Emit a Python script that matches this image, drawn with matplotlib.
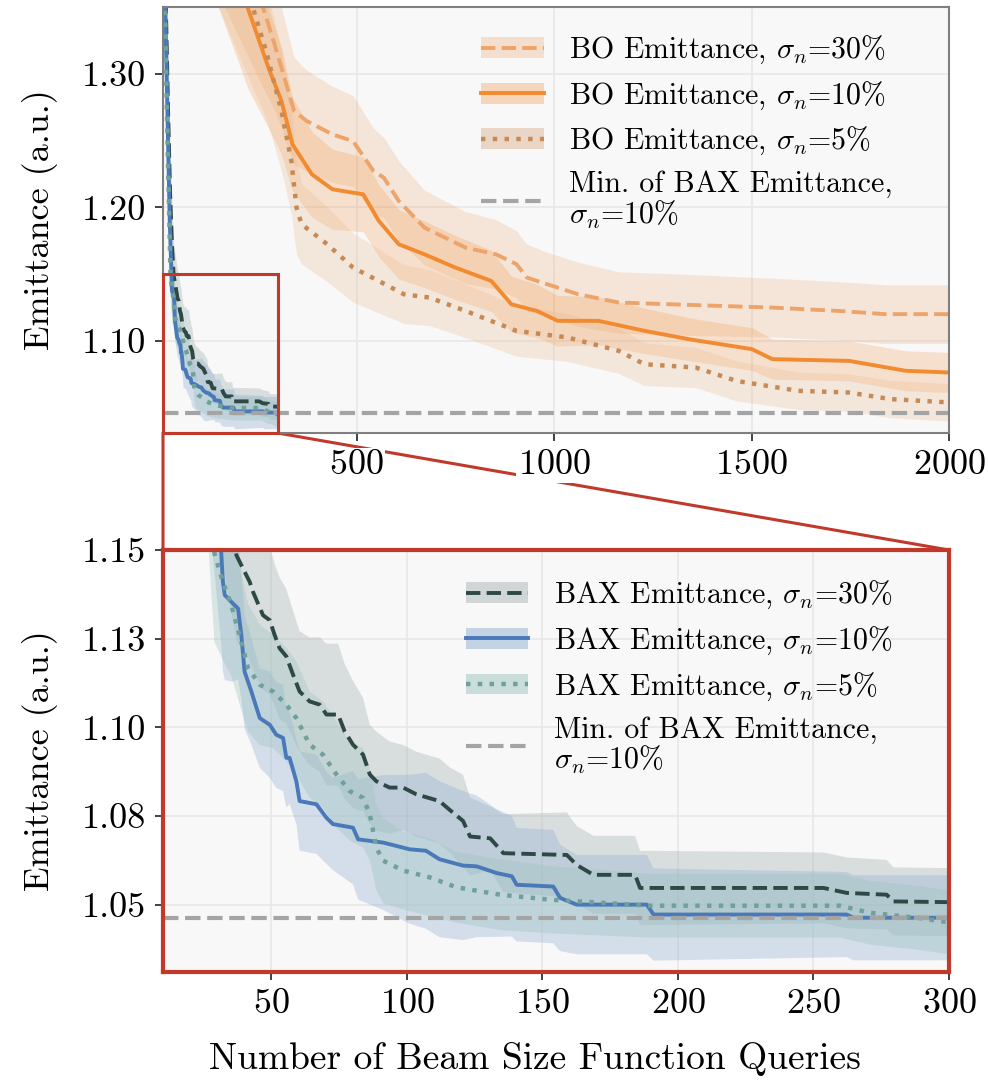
import numpy as np
import matplotlib
matplotlib.use("Agg")
import matplotlib.pyplot as plt
from matplotlib.patches import Patch, Rectangle, ConnectionPatch
from matplotlib.lines import Line2D

plt.rcParams['font.family'] = 'serif'
plt.rcParams['font.serif'] = ['cmr10', 'DejaVu Serif']
plt.rcParams['mathtext.fontset'] = 'cm'
plt.rcParams['axes.formatter.use_mathtext'] = True
plt.rcParams['axes.unicode_minus'] = False

# --- data ---
bax30_x = [10, 14, 18, 23, 28, 33, 37.1, 39.5, 42, 43.2, 46.9, 49.4, 51.2, 53, 55.5, 58, 60.4, 64.1,
           67.8, 70.3, 74.6, 77, 80.1, 83.8, 86.3, 88.7, 93.6, 98.6, 103.5, 112, 115.8, 120.7, 123.3,
           130.7, 135.6, 159, 162.6, 168.8, 184.2, 186, 253.7, 262.3, 277, 279.5, 300]
bax30_y = [1.47, 1.40, 1.34, 1.27, 1.21, 1.17, 1.1485, 1.1448, 1.141, 1.1382, 1.1316, 1.1302, 1.126,
           1.1223, 1.12, 1.1148, 1.1101, 1.1073, 1.1064, 1.1036, 1.1036, 1.0989, 1.0951, 1.0923,
           1.0867, 1.0848, 1.083, 1.083, 1.0811, 1.0792, 1.0767, 1.0736, 1.0692, 1.0687, 1.0645,
           1.064, 1.0612, 1.0584, 1.0584, 1.0547, 1.0547, 1.0533, 1.0528, 1.0509, 1.0507]
bax30_sd = [0.06, 0.055, 0.05, 0.045, 0.035, 0.028, 0.024, 0.023, 0.022, 0.022, 0.021, 0.021, 0.02,
            0.02, 0.019, 0.018, 0.017, 0.018, 0.019, 0.02, 0.02, 0.019, 0.018, 0.016, 0.014, 0.014,
            0.013, 0.012, 0.012, 0.012, 0.012, 0.013, 0.011, 0.009, 0.011, 0.012, 0.011, 0.011,
            0.011, 0.0105, 0.010, 0.010, 0.0098, 0.0096, 0.0096]

bax10_x = [10, 14, 17, 22, 27, 31.5, 32.1, 32.8, 35.8, 37.7, 38.9, 40.1, 42.6, 45.7, 49.4, 51.8,
           54.3, 55.5, 56.7, 59.2, 60.4, 66.6, 70.3, 72.7, 80.1, 82, 91.2, 101, 107, 112, 120.7,
           125.7, 133.1, 138.7, 140.5, 154, 156.5, 162.6, 188.5, 191, 262.3, 264.7, 300]
bax10_y = [1.46, 1.38, 1.33, 1.26, 1.19, 1.149, 1.141, 1.1373, 1.1349, 1.1335, 1.126, 1.1157, 1.1101,
           1.1026, 1.1007, 1.0979, 1.097, 1.0914, 1.0914, 1.0848, 1.0792, 1.0783, 1.0745, 1.0727,
           1.0717, 1.0684, 1.0675, 1.0656, 1.0652, 1.0628, 1.061, 1.0608, 1.0589, 1.058, 1.0556,
           1.0551, 1.0519, 1.05, 1.05, 1.0472, 1.0472, 1.0463, 1.0463]
bax10_sd = [0.05, 0.045, 0.04, 0.035, 0.03, 0.026, 0.025, 0.024, 0.022, 0.02, 0.018, 0.016, 0.015,
            0.014, 0.015, 0.015, 0.015, 0.014, 0.013, 0.012, 0.014, 0.014, 0.013, 0.013, 0.016,
            0.017, 0.019, 0.021, 0.022, 0.022, 0.021, 0.02, 0.018, 0.017, 0.016, 0.016, 0.015,
            0.014, 0.014, 0.013, 0.012, 0.012, 0.012]

bax5_x = [10, 14, 18, 22, 26, 29, 32.1, 35.2, 39.5, 41.4, 45.7, 50.6, 55.5, 59.2, 64.1, 69, 74,
          78.9, 83.8, 86.3, 88.7, 91.2, 98.6, 108.4, 118.2, 134.4, 152.8, 189.7, 259.8, 270.9,
          288, 300]
bax5_y = [1.45, 1.37, 1.30, 1.24, 1.19, 1.149, 1.141, 1.1345, 1.1223, 1.1167, 1.112, 1.1101,
          1.1064, 1.1026, 1.0951, 1.0923, 1.0867, 1.082, 1.0801, 1.0755, 1.0661, 1.0624, 1.0596,
          1.0577, 1.0549, 1.0528, 1.0514, 1.0497, 1.0497, 1.0477, 1.0463, 1.045]
bax5_sd = [0.05, 0.045, 0.04, 0.035, 0.03, 0.025, 0.022, 0.02, 0.019, 0.018, 0.017, 0.016, 0.016,
           0.016, 0.015, 0.015, 0.015, 0.014, 0.014, 0.013, 0.012, 0.012, 0.011, 0.011, 0.010,
           0.010, 0.0095, 0.009, 0.009, 0.009, 0.009, 0.009]

bo30_x = [150, 264, 290, 310, 342, 374, 439, 491, 543, 569, 607, 672, 776, 853, 905, 931, 983,
          1061, 1164, 1294, 1553, 1721, 1838, 2000]
bo30_y = [1.46, 1.349, 1.3244, 1.3045, 1.272, 1.2646, 1.2546, 1.2496, 1.2272, 1.2222, 1.2047,
          1.1848, 1.1698, 1.1648, 1.1574, 1.1474, 1.1424, 1.1349, 1.1287, 1.1274, 1.1249, 1.1224,
          1.12, 1.12]
bo30_sd = [0.10, 0.06, 0.05, 0.045, 0.04, 0.038, 0.036, 0.034, 0.032, 0.03, 0.03, 0.028, 0.027,
           0.026, 0.025, 0.025, 0.024, 0.024, 0.023, 0.023, 0.022, 0.022, 0.022, 0.022]

bo10_x = [150, 225, 277, 310, 338, 387, 439, 517, 556, 607, 672, 750, 841, 892, 957, 1009, 1112,
          1229, 1346, 1501, 1553, 1747, 1890, 2000]
bo10_y = [1.45, 1.349, 1.3045, 1.2796, 1.247, 1.2247, 1.2135, 1.2097, 1.190, 1.1723, 1.1648,
          1.1549, 1.1449, 1.1274, 1.1224, 1.115, 1.115, 1.1075, 1.101, 1.0938, 1.0863, 1.085,
          1.0776, 1.0763]
bo10_sd = [0.10, 0.06, 0.045, 0.04, 0.035, 0.032, 0.03, 0.028, 0.027, 0.026, 0.025, 0.024, 0.023,
           0.021, 0.02, 0.019, 0.018, 0.017, 0.016, 0.016, 0.015, 0.015, 0.015, 0.015]

bo5_x = [150, 238, 271, 310, 335, 348, 361, 426, 491, 556, 620, 685, 776, 905, 1035, 1164, 1229,
         1359, 1462, 1618, 1747, 1851, 2000]
bo5_y = [1.45, 1.349, 1.317, 1.272, 1.2347, 1.1998, 1.1873, 1.1723, 1.1549, 1.1449, 1.1349, 1.1324,
         1.1224, 1.1075, 1.1025, 1.0925, 1.0825, 1.08, 1.07, 1.0626, 1.0613, 1.0564, 1.0539]
bo5_sd = [0.10, 0.06, 0.05, 0.045, 0.04, 0.035, 0.03, 0.028, 0.026, 0.024, 0.022, 0.021, 0.02,
          0.019, 0.018, 0.017, 0.016, 0.015, 0.015, 0.014, 0.014, 0.014, 0.014]

bax_min = 1.0463

top_yticks = [1.10, 1.20, 1.30]
top_xticks = [500, 1000, 1500, 2000]
bot_yticks = [1.05, 1.075, 1.10, 1.125, 1.15]
bot_yticklabels = ['1.05', '1.08', '1.10', '1.13', '1.15']
bot_xticks = [50, 100, 150, 200, 250, 300]

c_bo30, c_bo10, c_bo5 = '#eda46a', '#f28a30', '#c78a55'
c_bax30, c_bax10, c_bax5 = '#2e4845', '#4a79b9', '#6fa19a'
f_bax30, f_bax10, f_bax5 = '#aab5b5', '#8fb0d2', '#9cc4be'
c_min = '#a4a4a4'
red = '#c0392b'

W, H = 988, 1081
fig = plt.figure(figsize=(W / 100, H / 100), dpi=100)
ax1 = fig.add_axes([163 / W, 1 - 433 / H, 786 / W, 426 / H])
ax2 = fig.add_axes([163 / W, 1 - 972 / H, 786 / W, 422 / H])


def style(ax):
    ax.set_facecolor('#f8f8f8')
    ax.grid(True, color='#e8e8e8', lw=1.2)
    ax.set_axisbelow(True)
    for s in ax.spines.values():
        s.set_color('#7f7f7f')
        s.set_linewidth(1.5)
    ax.tick_params(labelsize=26, length=6, width=1.3, color='#333333', pad=6)


def band(ax, x, y, sd, lc, fc, ls, alpha, lw=2.8):
    x, y, sd = np.array(x), np.array(y), np.array(sd)
    ax.fill_between(x, y - sd, y + sd, color=fc, alpha=alpha, lw=0)
    ax.plot(x, y, color=lc, ls=ls, lw=lw)


def legend(ax, handles, labels, xr, top):
    leg = ax.legend(handles, labels, loc='upper right', bbox_to_anchor=(xr, top), frameon=False,
                    fontsize=21.5, handlelength=2.1, handletextpad=0.85, labelspacing=0.45)
    for t in leg.get_texts():
        t.set_linespacing(1.0)
    return leg


# top panel
style(ax1)
band(ax1, bo30_x, bo30_y, bo30_sd, c_bo30, c_bo30, '--', 0.22)
band(ax1, bo10_x, bo10_y, bo10_sd, c_bo10, c_bo10, '-', 0.22)
band(ax1, bo5_x, bo5_y, bo5_sd, c_bo5, '#e8b88a', ':', 0.25, lw=3.2)
band(ax1, bax30_x, bax30_y, bax30_sd, c_bax30, f_bax30, '--', 0.4)
band(ax1, bax10_x, bax10_y, bax10_sd, c_bax10, f_bax10, '-', 0.35)
band(ax1, bax5_x, bax5_y, bax5_sd, c_bax5, f_bax5, ':', 0.35, lw=3.2)
ax1.axhline(bax_min, color=c_min, ls='--', lw=3)
ax1.set_xlim(10, 2000)
ax1.set_ylim(1.031, 1.35)
ax1.set_xticks(top_xticks)
ax1.set_yticks(top_yticks)
ax1.set_yticklabels(['%.2f' % v for v in top_yticks])
ax1.set_ylabel('Emittance (a.u.)', fontsize=26, labelpad=17)
for t in ax1.get_xticklabels():
    t.set_bbox(dict(facecolor='white', edgecolor='none', pad=1))
ax1.add_patch(Rectangle((10, 1.031), 290, 1.15 - 1.031, fill=False, edgecolor=red, lw=2.2,
                        zorder=5, clip_on=False))

h_top = [
    (Patch(facecolor=c_bo30, alpha=0.3), Line2D([], [], color=c_bo30, ls='--', lw=2.8)),
    (Patch(facecolor=c_bo10, alpha=0.3), Line2D([], [], color=c_bo10, ls='-', lw=2.8)),
    (Patch(facecolor=c_bo5, alpha=0.3), Line2D([], [], color=c_bo5, ls=':', lw=3.2)),
    Line2D([], [], color=c_min, ls='--', lw=3),
]
l_top = [r'BO Emittance, $\sigma_n$=30%', r'BO Emittance, $\sigma_n$=10%',
         r'BO Emittance, $\sigma_n$=5%', 'Min. of BAX Emittance,\n' + r'$\sigma_n$=10%']
legend(ax1, h_top, l_top, 0.963, 1.0)

# bottom panel (zoom)
style(ax2)
for s in ax2.spines.values():
    s.set_color(red)
    s.set_linewidth(3)
band(ax2, bax30_x, bax30_y, bax30_sd, c_bax30, f_bax30, '--', 0.4)
band(ax2, bax10_x, bax10_y, bax10_sd, c_bax10, f_bax10, '-', 0.35)
band(ax2, bax5_x, bax5_y, bax5_sd, c_bax5, f_bax5, ':', 0.35, lw=3.2)
ax2.axhline(bax_min, color=c_min, ls='--', lw=3)
ax2.set_xlim(10, 300)
ax2.set_ylim(1.031, 1.15)
ax2.set_xticks(bot_xticks)
ax2.set_yticks(bot_yticks)
ax2.set_yticklabels(bot_yticklabels)
ax2.set_ylabel('Emittance (a.u.)', fontsize=26, labelpad=17)
ax2.set_xlabel('Number of Beam Size Function Queries', fontsize=27)
ax2.xaxis.set_label_coords((535 - 163) / 786, -0.166)

h_bot = [
    (Patch(facecolor=f_bax30, alpha=0.5), Line2D([], [], color=c_bax30, ls='--', lw=2.8)),
    (Patch(facecolor=f_bax10, alpha=0.5), Line2D([], [], color=c_bax10, ls='-', lw=2.8)),
    (Patch(facecolor=f_bax5, alpha=0.5), Line2D([], [], color=c_bax5, ls=':', lw=3.2)),
    Line2D([], [], color=c_min, ls='--', lw=3),
]
l_bot = [r'BAX Emittance, $\sigma_n$=30%', r'BAX Emittance, $\sigma_n$=10%',
         r'BAX Emittance, $\sigma_n$=5%', 'Min. of BAX Emittance,\n' + r'$\sigma_n$=10%']
legend(ax2, h_bot, l_bot, 0.962, 0.995)

# connectors from the box to the zoom panel
ax1.set_zorder(3)
ax2.set_zorder(1)
for xa, xb in [(10, 10), (300, 300)]:
    con = ConnectionPatch(xyA=(xa, 1.031), coordsA=ax1.transData,
                          xyB=(xb, 1.15), coordsB=ax2.transData,
                          color=red, lw=2.2, zorder=2)
    fig.add_artist(con)

fig.savefig('out.png', dpi=100)
